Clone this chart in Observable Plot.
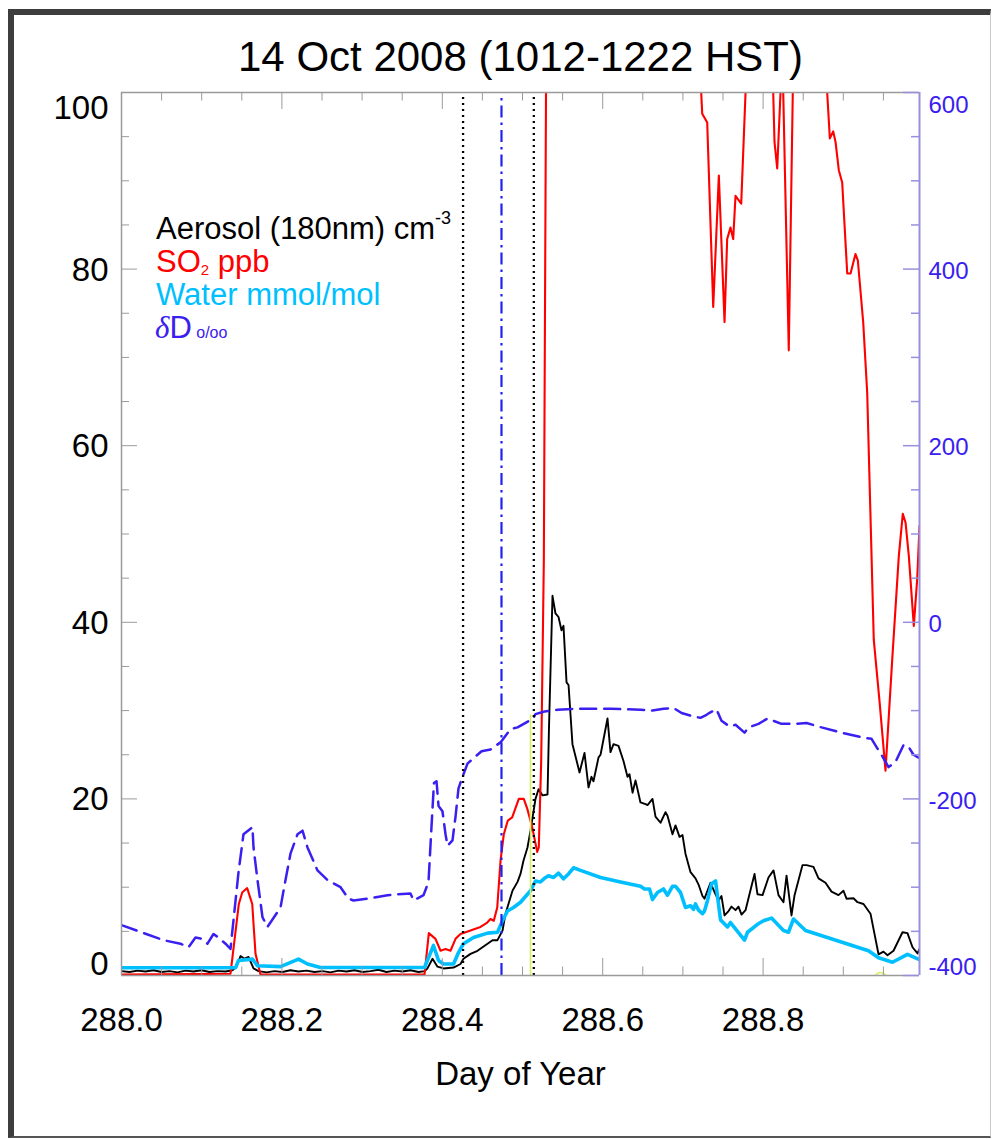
<!DOCTYPE html>
<html><head><meta charset="utf-8">
<script src="https://cdn.jsdelivr.net/npm/d3@7"></script>
<script src="https://cdn.jsdelivr.net/npm/@observablehq/plot@0.6"></script>
<style>
html,body{margin:0;padding:0;background:#fff;}
#wrap{position:relative;width:994px;height:1139px;overflow:hidden;}
#wrap svg{position:absolute;left:0;top:0;}
#border{position:absolute;left:8px;top:9px;width:983px;height:1129px;box-sizing:border-box;border-left:6px solid #3d3d3d;border-top:6px solid #3d3d3d;border-bottom:2px solid #555;border-right:1px solid #c8c8c8;pointer-events:none;}
</style></head><body><div id="wrap"><div id="border"></div></div>
<script>
// ---------- data ----------
const titleText = "14 Oct 2008 (1012-1222 HST)";
const xLabel = "Day of Year";
const xMajor = [288.0, 288.2, 288.4, 288.6, 288.8];
const xMinor = [288.05,288.1,288.15,288.25,288.3,288.35,288.45,288.5,288.55,288.65,288.7,288.75,288.85,288.9,288.95];
const leftMajor = [0, 20, 40, 60, 80, 100];
const leftMinor = [5,10,15,25,30,35,45,50,55,65,70,75,85,90,95];
const rightMajor = [-400, -200, 0, 200, 400, 600];
const rightMinor = [-350,-300,-250,-150,-100,-50,50,100,150,250,300,350,450,500,550];

// [day of year, particles cm-3]
const aerosol = [[288.0000,0.50],[288.0100,0.40],[288.0200,0.55],[288.0299,0.45],[288.0399,0.60],[288.0499,0.40],[288.0599,0.50],[288.0698,0.35],[288.0798,0.55],[288.0898,0.45],[288.0998,0.60],[288.1097,0.40],[288.1197,0.50],[288.1297,0.45],[288.1384,0.60],[288.1434,1.00],[288.1484,2.20],[288.1534,1.90],[288.1584,2.10],[288.1646,0.80],[288.1708,0.50],[288.1808,0.35],[288.1908,0.50],[288.2007,0.40],[288.2107,0.60],[288.2207,0.45],[288.2307,0.55],[288.2406,0.40],[288.2506,0.50],[288.2606,0.35],[288.2706,0.55],[288.2806,0.45],[288.2905,0.60],[288.3005,0.40],[288.3105,0.50],[288.3204,0.65],[288.3304,0.40],[288.3404,0.55],[288.3504,0.45],[288.3603,0.60],[288.3703,0.40],[288.3778,0.50],[288.3815,0.80],[288.3878,1.90],[288.3940,1.00],[288.4015,0.80],[288.4140,0.90],[288.4227,1.30],[288.4264,1.90],[288.4352,2.45],[288.4439,2.80],[288.4501,3.20],[288.4564,3.60],[288.4626,4.00],[288.4688,4.00],[288.4751,5.10],[288.4788,7.00],[288.4825,8.10],[288.4875,9.60],[288.4938,10.60],[288.4975,11.50],[288.5012,13.00],[288.5062,14.50],[288.5100,16.40],[288.5162,20.00],[288.5200,21.10],[288.5249,20.40],[288.5312,20.50],[288.5330,28.00],[288.5374,43.00],[288.5411,41.00],[288.5449,40.60],[288.5486,39.10],[288.5511,39.60],[288.5549,33.20],[288.5574,32.90],[288.5623,26.20],[288.5711,23.00],[288.5773,25.20],[288.5823,21.30],[288.5860,22.50],[288.5885,22.00],[288.5948,24.70],[288.5973,25.00],[288.6060,29.10],[288.6097,25.30],[288.6135,26.20],[288.6197,26.00],[288.6259,24.30],[288.6309,22.50],[288.6334,22.80],[288.6372,20.70],[288.6409,22.10],[288.6471,19.60],[288.6534,19.40],[288.6559,19.30],[288.6621,20.00],[288.6658,18.00],[288.6721,17.30],[288.6783,18.50],[288.6808,18.10],[288.6870,16.00],[288.6908,17.00],[288.6958,15.70],[288.6995,15.90],[288.7032,13.80],[288.7095,11.70],[288.7157,11.00],[288.7195,10.30],[288.7244,9.00],[288.7269,8.70],[288.7344,10.50],[288.7407,9.20],[288.7444,8.50],[288.7481,9.00],[288.7519,6.80],[288.7569,7.30],[288.7606,7.80],[288.7656,7.40],[288.7693,7.80],[288.7731,6.90],[288.7781,7.40],[288.7830,9.20],[288.7893,11.50],[288.7930,9.20],[288.7993,9.10],[288.8067,11.10],[288.8130,11.90],[288.8192,9.10],[288.8254,8.30],[288.8292,11.30],[288.8354,6.80],[288.8392,9.10],[288.8491,12.50],[288.8541,12.50],[288.8628,12.30],[288.8691,11.00],[288.8778,10.50],[288.8853,9.50],[288.8940,9.10],[288.9002,9.60],[288.9040,8.70],[288.9127,8.75],[288.9177,8.30],[288.9252,8.10],[288.9339,7.00],[288.9439,2.40],[288.9501,2.70],[288.9551,2.30],[288.9626,2.80],[288.9738,4.90],[288.9800,4.80],[288.9863,3.20],[288.9925,2.50],[288.9950,3.00]];

// [day of year, SO2 ppb] (values above 100 are off scale)
const so2 = [[288.0000,0.1],[288.1359,0.2],[288.1463,8.1],[288.1505,9.4],[288.1567,9.9],[288.1630,8.1],[288.1671,2.45],[288.1733,0.1],[288.3778,0.1],[288.3832,4.8],[288.3915,4.15],[288.3978,2.8],[288.4040,3.0],[288.4102,2.8],[288.4165,4.15],[288.4227,4.7],[288.4352,5.1],[288.4476,5.5],[288.4560,6.0],[288.4601,6.4],[288.4642,6.2],[288.4685,7.7],[288.4726,13.0],[288.4767,16.0],[288.4817,17.55],[288.4871,17.9],[288.4954,20.0],[288.5016,20.0],[288.5059,18.9],[288.5121,16.8],[288.5183,14.0],[288.5203,14.5],[288.5233,24.3],[288.5266,47.0],[288.5293,100],[288.5306,125],[288.7219,125],[288.7228,100],[288.7241,97.6],[288.7303,96.6],[288.7378,75.7],[288.7448,90.6],[288.7519,74.0],[288.7552,83.4],[288.7593,84.7],[288.7627,83.4],[288.7656,88.3],[288.7727,87.4],[288.7781,100],[288.7789,125],[288.8117,125],[288.8126,100],[288.8142,94.4],[288.8176,91.4],[288.8217,100],[288.8223,125],[288.8244,125],[288.8251,100],[288.8320,70.8],[288.8370,100],[288.8376,125],[288.8790,125],[288.8799,100],[288.8832,94.8],[288.8874,95.6],[288.8903,94.4],[288.8944,91.2],[288.8986,89.8],[288.9049,79.5],[288.9090,79.5],[288.9152,81.7],[288.9181,81.0],[288.9248,74.0],[288.9298,66.0],[288.9380,38.0],[288.9455,30.7],[288.9526,23.2],[288.9610,35.8],[288.9692,47.5],[288.9742,52.3],[288.9776,51.3],[288.9817,47.5],[288.9879,39.6],[288.9922,45.0],[288.9950,50.9]];

// [day of year, water mmol/mol]
const water = [[288.0000,0.87],[288.1421,0.87],[288.1459,1.70],[288.1633,1.85],[288.1696,1.10],[288.1983,1.00],[288.2207,1.85],[288.2319,1.30],[288.2481,0.90],[288.3778,0.90],[288.3890,3.40],[288.3953,1.70],[288.4015,1.30],[288.4140,1.30],[288.4202,2.60],[288.4264,3.60],[288.4389,4.30],[288.4564,4.80],[288.4688,4.90],[288.4751,6.20],[288.4813,7.30],[288.4888,7.70],[288.4975,8.30],[288.5100,9.60],[288.5162,10.70],[288.5224,10.60],[288.5274,11.00],[288.5324,11.30],[288.5387,11.10],[288.5449,11.60],[288.5511,10.95],[288.5574,11.50],[288.5636,12.20],[288.5723,11.90],[288.5973,11.10],[288.6222,10.60],[288.6471,10.10],[288.6521,9.80],[288.6584,9.80],[288.6621,8.60],[288.6683,9.40],[288.6758,9.80],[288.6808,9.10],[288.6870,10.10],[288.6908,10.10],[288.6970,9.40],[288.7032,7.70],[288.7095,7.90],[288.7132,7.50],[288.7157,8.10],[288.7195,7.40],[288.7244,7.00],[288.7269,7.30],[288.7307,8.50],[288.7357,10.40],[288.7407,10.70],[288.7469,6.30],[288.7556,5.50],[288.7593,6.00],[288.7768,4.00],[288.7806,4.90],[288.7930,5.80],[288.8005,6.20],[288.8105,6.50],[288.8254,5.10],[288.8317,4.90],[288.8379,6.40],[288.8529,5.10],[288.9314,2.80],[288.9439,2.00],[288.9613,1.50],[288.9800,2.40],[288.9950,1.80]];

// [day of year, deltaD permil] (right axis)
const deltaD = [[288.0000,-343],[288.0524,-360],[288.0736,-364],[288.0835,-368],[288.0923,-357],[288.0985,-358],[288.1072,-364],[288.1147,-353],[288.1209,-357],[288.1297,-364],[288.1359,-370],[288.1459,-283],[288.1521,-240],[288.1633,-232],[288.1646,-255],[288.1696,-292],[288.1758,-334],[288.1820,-345],[288.1983,-323],[288.2020,-304],[288.2107,-262],[288.2195,-240],[288.2257,-236],[288.2319,-255],[288.2444,-281],[288.2569,-292],[288.2731,-300],[288.2830,-313],[288.2893,-315],[288.3067,-313],[288.3317,-309],[288.3603,-307],[288.3641,-315],[288.3766,-309],[288.3828,-294],[288.3865,-232],[288.3896,-182],[288.3928,-180],[288.3953,-208],[288.4002,-214],[288.4040,-240],[288.4065,-253],[288.4127,-247],[288.4165,-220],[288.4202,-188],[288.4252,-175],[288.4314,-160],[288.4377,-155],[288.4489,-146],[288.4601,-144],[288.4726,-136],[288.4850,-121],[288.4938,-119],[288.5075,-112],[288.5125,-110],[288.5162,-104],[288.5274,-101],[288.5436,-99],[288.5636,-98],[288.6097,-98],[288.6471,-99],[288.6621,-100],[288.6758,-98],[288.6883,-97],[288.6983,-102.7],[288.7132,-106.7],[288.7219,-108.2],[288.7282,-105.5],[288.7332,-102.5],[288.7419,-98.5],[288.7481,-111.5],[288.7581,-118],[288.7656,-116],[288.7768,-125],[288.7818,-119],[288.7943,-115],[288.8055,-109],[288.8229,-115],[288.8392,-115],[288.8541,-114],[288.8728,-119],[288.8978,-125],[288.9264,-131],[288.9352,-132],[288.9426,-143],[288.9489,-152],[288.9564,-164],[288.9651,-158],[288.9751,-139],[288.9813,-141],[288.9875,-150],[288.9950,-154]];

const eventDotted = [288.4259, 288.5141];
const eventDashDot = [288.4738];
const eventYellow = [288.5100];
const eventYellowTop = 29.5;
const markerYellow = [[288.9464, -0.35]];

// ---------- chart ----------
const FONT = "'Liberation Sans', Arial, Helvetica, sans-serif";
const X0 = 288.0, X1 = 288.995;
const toLeft = v => (v + 400) / 10;       // right axis -> left axis units
const BLUE = "#3a20f0", CYAN = "#00bfff", RED = "#ff0000";
const AXIS = "#9a9a9a", RAXIS = "#9890dc";
const tickY = 1.93, tickYm = 0.96;          // tick lengths (left-axis units)
const tickX = 0.02, tickXm = 0.01;          // tick lengths (days)

const fmt1 = d3.format(".1f");

const plot = Plot.plot({
  width: 994, height: 1139,
  marginLeft: 121, marginRight: 75, marginTop: 92, marginBottom: 164,
  x: {domain: [X0, X1], axis: null},
  y: {domain: [0, 100], axis: null},
  style: {fontFamily: FONT, background: "transparent", overflow: "visible"},
  marks: [
    // data
    Plot.line(aerosol, {x: d => d[0], y: d => d[1], stroke: "black", strokeWidth: 1.9, clip: true}),
    Plot.line(so2, {x: d => d[0], y: d => d[1], stroke: RED, strokeWidth: 2.1, clip: true}),
    Plot.line(water, {x: d => d[0], y: d => d[1], stroke: CYAN, strokeWidth: 3.6, clip: true}),
    Plot.line(deltaD, {x: d => d[0], y: d => toLeft(d[1]), stroke: BLUE, strokeWidth: 2.5, strokeDasharray: "16,8", clip: true}),
    // event lines
    Plot.ruleX(eventYellow, {x: d => d, y1: 0, y2: eventYellowTop, stroke: "#d8f060", strokeWidth: 1.6}),
    Plot.ruleX(eventDotted, {x: d => d, y1: 0, y2: 100, stroke: "black", strokeWidth: 2.3, strokeDasharray: "2,4"}),
    Plot.ruleX(eventDashDot, {x: d => d, y1: 0, y2: 100, stroke: "#2222ee", strokeWidth: 2.2, strokeDasharray: "12,5,2.5,5"}),
    Plot.dot(markerYellow, {x: d => d[0], y: d => d[1], r: 6, stroke: "#d8f060", strokeWidth: 1.5, fill: "none", clip: true}),
    // frame
    Plot.ruleY([0, 100], {y: d => d, x1: X0, x2: X1, stroke: AXIS, strokeWidth: 1.5}),
    Plot.ruleX([X0], {x: d => d, y1: 0, y2: 100, stroke: AXIS, strokeWidth: 1.5}),
    Plot.ruleX([X1], {x: d => d, y1: 0, y2: 100, stroke: RAXIS, strokeWidth: 2}),
    // x ticks (bottom and top, inward)
    Plot.ruleX(xMajor, {x: d => d, y1: 0, y2: tickY, stroke: AXIS}),
    Plot.ruleX(xMinor, {x: d => d, y1: 0, y2: tickYm, stroke: AXIS}),
    Plot.ruleX(xMajor, {x: d => d, y1: 100, y2: 100 - tickY, stroke: AXIS}),
    Plot.ruleX(xMinor, {x: d => d, y1: 100, y2: 100 - tickYm, stroke: AXIS}),
    // left ticks
    Plot.ruleY(leftMajor, {y: d => d, x1: X0, x2: X0 + tickX, stroke: AXIS}),
    Plot.ruleY(leftMinor, {y: d => d, x1: X0, x2: X0 + tickXm, stroke: AXIS}),
    // right ticks
    Plot.ruleY(rightMajor, {y: d => toLeft(d), x1: X1 - tickX, x2: X1, stroke: RAXIS, strokeWidth: 1.5}),
    Plot.ruleY(rightMinor, {y: d => toLeft(d), x1: X1 - tickXm, x2: X1, stroke: RAXIS, strokeWidth: 1.5}),
    // x tick labels
    Plot.text(xMajor, {x: d => d, y: 0, text: d => fmt1(d), dy: 45, fontSize: 33, fill: "black", lineAnchor: "middle"}),
    Plot.text([xLabel], {frameAnchor: "bottom", dy: 99, text: d => d, fontSize: 33, fill: "black", lineAnchor: "middle"}),
    // left tick labels
    Plot.text(leftMajor.filter(d => d > 0 && d < 100), {x: X0, y: d => d, text: d => String(d), dx: -13, dy: 1, textAnchor: "end", fontSize: 33, fill: "black", lineAnchor: "middle"}),
    Plot.text([100], {x: X0, y: d => d, text: d => String(d), dx: -13, dy: 16, textAnchor: "end", fontSize: 33, fill: "black", lineAnchor: "middle"}),
    Plot.text([0], {x: X0, y: d => d, text: d => String(d), dx: -13, dy: -11, textAnchor: "end", fontSize: 33, fill: "black", lineAnchor: "middle"}),
    // right tick labels
    Plot.text(rightMajor.filter(d => d > -400 && d < 600), {x: X1, y: d => toLeft(d), text: d => String(d), dx: 9, dy: 2, textAnchor: "start", fontSize: 24, fill: BLUE, lineAnchor: "middle"}),
    Plot.text([600], {x: X1, y: d => toLeft(d), text: d => String(d), dx: 9, dy: 13, textAnchor: "start", fontSize: 24, fill: BLUE, lineAnchor: "middle"}),
    Plot.text([-400], {x: X1, y: d => toLeft(d), text: d => String(d), dx: 9, dy: -8, textAnchor: "start", fontSize: 24, fill: BLUE, lineAnchor: "middle"}),
    // title
    Plot.text([titleText], {frameAnchor: "top", dy: -35, text: d => d, fontSize: 42, fill: "black", lineAnchor: "middle"})
  ]
});

document.getElementById("wrap").prepend(plot);

// legend with super/subscripts
const svg = d3.select(plot);
const leg = svg.append("g").attr("font-family", FONT).attr("font-size", 31).attr("text-anchor", "start");
const l1 = leg.append("text").attr("x", 156).attr("y", 239).attr("fill", "black");
l1.append("tspan").text("Aerosol (180nm) cm");
l1.append("tspan").attr("font-size", 18).attr("dy", -15).text("-3");
const l2 = leg.append("text").attr("x", 156).attr("y", 272).attr("fill", RED);
l2.append("tspan").text("SO");
l2.append("tspan").attr("font-size", 15).attr("dy", 3).text("2");
l2.append("tspan").attr("dy", -3).text(" ppb");
leg.append("text").attr("x", 156).attr("y", 305).attr("fill", CYAN).text("Water mmol/mol");
const l4 = leg.append("text").attr("x", 155).attr("y", 338).attr("fill", BLUE);
l4.append("tspan").attr("font-family", "'Liberation Serif', 'DejaVu Serif', serif").attr("font-style", "italic").attr("font-size", 31).text("δ");
l4.append("tspan").text("D");
l4.append("tspan").attr("font-size", 16).text(" o/oo");
</script>
</body></html>
